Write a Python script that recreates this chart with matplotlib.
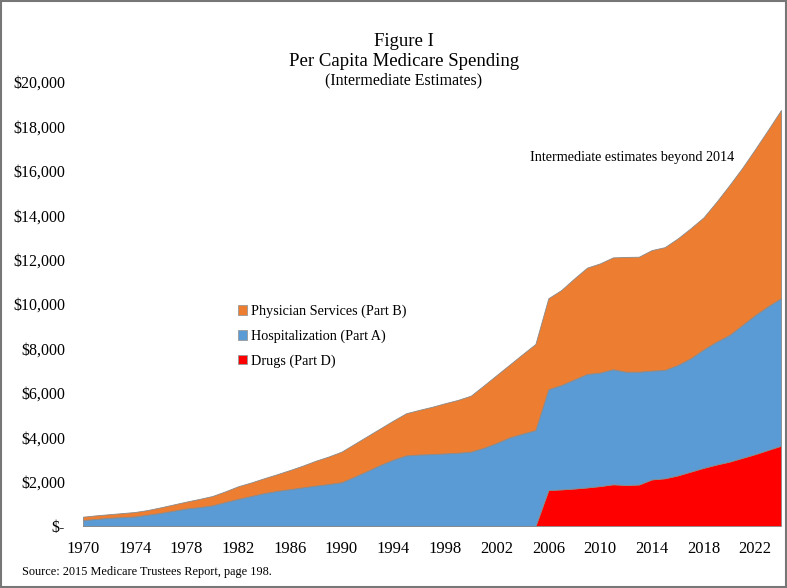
import numpy as np
import matplotlib
matplotlib.use("Agg")
import matplotlib.pyplot as plt
from matplotlib.patches import Patch, Rectangle

years = list(range(1970, 2025))

# Stack tops (cumulative), $ per capita
drugs_top = [0]*36 + [1620, 1650, 1690, 1740, 1800, 1880, 1850, 1870, 2100, 2150,
                      2280, 2450, 2620, 2770, 2900, 3070, 3240, 3430, 3620]
hosp_top = [270, 320, 370, 400, 430, 510, 590, 690, 790, 850,
            930, 1080, 1220, 1350, 1480, 1580, 1660, 1740, 1820, 1890,
            1970, 2220, 2480, 2750, 2990, 3180, 3220, 3240, 3270, 3300,
            3350, 3520, 3740, 3990, 4160, 4320,
            6160, 6350, 6600, 6850, 6910, 7060, 6950, 6950, 7000, 7030,
            7250, 7550, 7950, 8300, 8600, 9050, 9500, 9900, 10260]
total_top = [420, 480, 530, 580, 630, 720, 840, 970, 1100, 1220,
             1350, 1560, 1790, 1960, 2150, 2330, 2520, 2720, 2940, 3130,
             3350, 3700, 4050, 4400, 4750, 5080, 5230, 5370, 5530, 5680,
             5870, 6330, 6800, 7270, 7740, 8200,
             10260, 10630, 11150, 11640, 11830, 12100, 12120, 12130, 12430, 12560,
             12950, 13410, 13900, 14600, 15350, 16130, 16980, 17850, 18740]

part_d = np.array(drugs_top, dtype=float)
part_a = np.array(hosp_top, dtype=float) - part_d
part_b = np.array(total_top, dtype=float) - np.array(hosp_top, dtype=float)

labels = ["Physician Services (Part B)", "Hospitalization (Part A)", "Drugs (Part D)"]
colors = {"B": "#ED7D31", "A": "#5B9BD5", "D": "#FF0000"}
ytick_vals = list(range(0, 20001, 2000))
ytick_labels = ["$-"] + ["${:,}".format(v) for v in ytick_vals[1:]]
xtick_vals = list(range(1970, 2023, 4))

plt.rcParams['font.family'] = ['Liberation Serif', 'DejaVu Serif']

fig = plt.figure(figsize=(7.87, 5.88), dpi=100)
ax = fig.add_axes([83/787, 62/588, 698/787, 444/588])

ax.stackplot(years, part_d, part_a, part_b,
             colors=[colors["D"], colors["A"], colors["B"]],
             edgecolor="#8a8a8a", linewidth=0.6)

ax.set_xlim(1970, 2024)
ax.set_ylim(0, 20000)
ax.set_yticks(ytick_vals)
ax.set_yticklabels(ytick_labels, fontsize=11.5)
ax.set_xticks(xtick_vals)
ax.set_xticklabels([str(x) for x in xtick_vals], fontsize=12)
ax.tick_params(axis='both', length=0)
ax.tick_params(axis='x', pad=11)
ax.tick_params(axis='y', pad=13)
for s in ax.spines.values():
    s.set_visible(False)

handles = [Patch(facecolor=colors["B"], edgecolor="#999999", linewidth=0.6),
           Patch(facecolor=colors["A"], edgecolor="#999999", linewidth=0.6),
           Patch(facecolor=colors["D"], edgecolor="#999999", linewidth=0.6)]
fig.legend(handles, labels, loc="upper left", bbox_to_anchor=(225/787, 1 - 292/588),
           frameon=False, fontsize=10.2, handlelength=0.65, handleheight=0.65,
           handletextpad=0.3, labelspacing=0.8)

fig.text(404/787, 1 - 42/588, "Figure I", ha="center", va="center", fontsize=13.5)
fig.text(404/787, 1 - 62/588, "Per Capita Medicare Spending", ha="center", va="center", fontsize=13.5)
fig.text(404/787, 1 - 80/588, "(Intermediate Estimates)", ha="center", va="center", fontsize=11.5)
fig.text(530/787, 1 - 158/588, "Intermediate estimates beyond 2014", ha="left", va="center", fontsize=10.2)
fig.text(22/787, 1 - 572/588, "Source: 2015 Medicare Trustees Report, page 198.", ha="left", va="center", fontsize=8.8)

fig.patches.append(Rectangle((0.001, 0.002), 0.998, 0.996, transform=fig.transFigure,
                             fill=False, edgecolor="#777777", linewidth=1.5))

fig.savefig("out.png", dpi=100)
